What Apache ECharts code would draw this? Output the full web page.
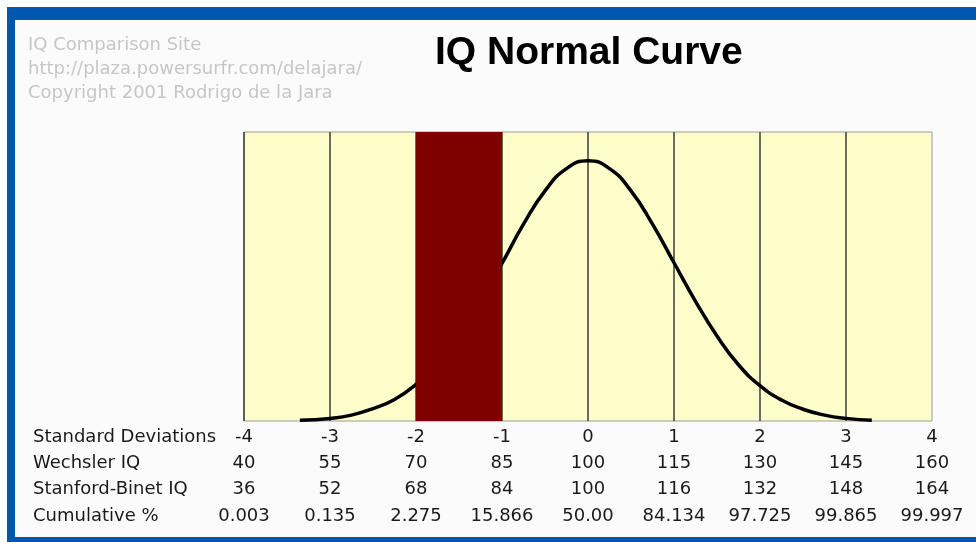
<!DOCTYPE html>
<html>
<head>
<meta charset="utf-8">
<script src="https://cdn.jsdelivr.net/npm/echarts@6/dist/echarts.min.js"></script>
<style>
  html, body { margin: 0; padding: 0; background: #ffffff; }
  #frame { position: absolute; left: 7px; top: 7px; width: 969px; height: 535px; background: #0058ae; }
  #inner { position: absolute; left: 15px; top: 20px; width: 961px; height: 517px; background: #fafbfa; }
  #chart { position: absolute; left: 0; top: 0; width: 976px; height: 542px; }
</style>
</head>
<body>
<div id="frame"></div>
<div id="inner"></div>
<div id="chart"></div>
<script>
// ---- data ----
const sdTicks = [-4, -3, -2, -1, 0, 1, 2, 3, 4];
const sdLabels = ['-4', '-3', '-2', '-1', '0', '1', '2', '3', '4'];
const wechslerIQ = [40, 55, 70, 85, 100, 115, 130, 145, 160];
const stanfordBinetIQ = [36, 52, 68, 84, 100, 116, 132, 148, 164];
const cumulativePct = ['0.003', '0.135', '2.275', '15.866', '50.00', '84.134', '97.725', '99.865', '99.997'];
const rowTitles = ['Standard Deviations', 'Wechsler IQ', 'Stanford-Binet IQ', 'Cumulative %'];
const creditLines = ['IQ Comparison Site', 'http://plaza.powersurfr.com/delajara/', 'Copyright 2001 Rodrigo de la Jara'];
const chartTitle = 'IQ Normal Curve';
// curve (x in SD, y = density)
const curveX = [-3.35, -3.0, -2.75, -2.5, -2.25, -2.0, -1.75, -1.5, -1.25, -1.0, -0.75, -0.5, -0.25, 0, 0.25, 0.5, 0.75, 1.0, 1.25, 1.5, 1.75, 2.0, 2.25, 2.5, 2.75, 3.0, 3.3];
const curveY = [0.001, 0.004, 0.009, 0.019, 0.033, 0.056, 0.087, 0.13, 0.183, 0.241, 0.301, 0.352, 0.386, 0.398, 0.386, 0.352, 0.301, 0.242, 0.183, 0.13, 0.086, 0.054, 0.032, 0.018, 0.009, 0.004, 0.001];
const highlightBand = [[-2, -1]];
const yMax = 0.442;

// ---- chart ----
const chart = echarts.init(document.getElementById('chart'), null, { renderer: 'canvas' });
const tableFont = 'DejaVu Sans';
const labelStyle = { fontFamily: tableFont, fontSize: 18, color: '#1a1a1a' };
const rowOffsets = [0, 26.3, 52.6, 79];
const rowValues = [sdLabels, wechslerIQ, stanfordBinetIQ, cumulativePct];

const xAxes = rowValues.map((vals, i) => ({
  type: 'value',
  gridIndex: 0,
  position: 'bottom',
  offset: rowOffsets[i],
  min: -4,
  max: 4,
  interval: 1,
  axisLine: { show: false },
  axisTick: { show: false },
  splitLine: i === 0
    ? { show: true, showMinLine: true, showMaxLine: false, lineStyle: { color: '#3a3a3a', width: 1.5 } }
    : { show: false },
  axisLabel: Object.assign({
    show: true,
    margin: 16,
    verticalAlign: 'middle',
    showMinLabel: true,
    showMaxLabel: true,
    hideOverlap: false,
    formatter: function (v) {
      const idx = sdTicks.indexOf(Math.round(v));
      return idx >= 0 ? String(vals[idx]) : '';
    }
  }, labelStyle)
}));

const option = {
  animation: false,
  backgroundColor: 'transparent',
  title: [
    {
      text: chartTitle, left: 435, top: 34, padding: 0,
      textStyle: { fontFamily: 'Liberation Sans, Arial', fontWeight: 'bold', fontSize: 39, color: '#000000' }
    },
    {
      text: creditLines.join('\n'), left: 28, top: 33, padding: 0,
      textStyle: { fontFamily: tableFont, fontWeight: 'normal', fontSize: 18, lineHeight: 24.2, color: '#c6c6c6' }
    },
    {
      text: rowTitles.join('\n'), left: 33, top: 424, padding: 0,
      textStyle: { fontFamily: tableFont, fontWeight: 'normal', fontSize: 18, lineHeight: 26.3, color: '#1a1a1a' }
    }
  ],
  grid: {
    left: 244, right: 44, top: 132, bottom: 121,
    show: true, backgroundColor: '#fefecb', borderColor: '#9c9c9c', borderWidth: 1
  },
  xAxis: xAxes,
  yAxis: { type: 'value', min: 0, max: yMax, show: false },
  series: [
    {
      type: 'line',
      xAxisIndex: 0,
      data: curveX.map((x, i) => [x, curveY[i]]),
      smooth: true,
      showSymbol: false,
      symbol: 'none',
      lineStyle: { color: '#000000', width: 3.5 },
      z: 3
    },
    {
      type: 'custom',
      xAxisIndex: 0,
      data: highlightBand,
      encode: { x: [0, 1] },
      z: 5,
      clip: true,
      renderItem: function (params, api) {
        const p0 = api.coord([api.value(0), yMax]);
        const p1 = api.coord([api.value(1), 0]);
        return {
          type: 'rect',
          shape: { x: p0[0], y: p0[1], width: p1[0] - p0[0], height: p1[1] - p0[1] },
          style: { fill: '#800000' }
        };
      }
    }
  ]
};
chart.setOption(option);
</script>
</body>
</html>
